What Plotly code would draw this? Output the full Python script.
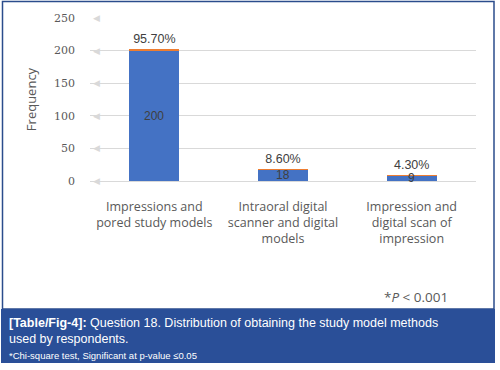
import plotly.graph_objects as go

categories = ["Impressions and<br>pored study models",
              "Intraoral digital<br>scanner and digital<br>models",
              "Impression and<br>digital scan of<br>impression"]
frequency = [200, 18, 9]
percentage = [0.957, 0.086, 0.043]
y_ticks = [0, 50, 100, 150, 200, 250]

W, H = 500, 370
L, R, T, B = 90, 24, 18, 189
pw, ph = W - L - R, H - T - B

def px(x):
    return (x - L) / pw

def py(y):
    return 1 - (y - T) / ph

fig = go.Figure()
fig.add_trace(go.Bar(
    x=categories, y=frequency, name="Frequency",
    marker=dict(color="#4472C4", line=dict(width=0)),
    hoverinfo="y",
))
fig.add_trace(go.Bar(
    x=categories, y=percentage, name="Percentage",
    marker=dict(color="#ED7D31", line=dict(width=0)),
    text=[f"{p*100:.2f}%" for p in percentage], textposition="outside",
    textangle=0,
    textfont=dict(family="Liberation Sans", size=12.5, color="#404040"),
    constraintext="none", cliponaxis=False,
))

for c, v in zip(categories, frequency):
    fig.add_annotation(x=c, y=v / 2, xref="x", yref="y", text=str(v),
                       showarrow=False,
                       font=dict(family="Liberation Sans", size=12, color="#404040"))

for v in y_ticks:
    fig.add_annotation(x=0, xref="paper", y=v, yref="y", text="◀",
                       showarrow=False, xanchor="left", xshift=1,
                       font=dict(size=9, color="#d9d9d9"))

fig.update_layout(
    width=W, height=H, barmode="stack", bargap=0.61,
    margin=dict(l=L, r=R, t=T, b=B, pad=0),
    paper_bgcolor="white", plot_bgcolor="white", showlegend=False,
    font=dict(family="Liberation Sans", color="#595959"),
    xaxis=dict(showgrid=False, showline=False, ticks="",
               tickfont=dict(family="Open Sans", size=12.5, color="#595959"),
               ticklabelstandoff=16, fixedrange=True),
    yaxis=dict(range=[0, 250], tickvals=y_ticks, showgrid=True,
               gridcolor="#d9d9d9", gridwidth=1, zeroline=True,
               zerolinecolor="#d9d9d9", zerolinewidth=1,
               tickfont=dict(family="DejaVu Serif", size=11, color="#595959"),
               ticklabelstandoff=14,
               title=dict(text="Frequency", standoff=14,
                          font=dict(family="Open Sans", size=13, color="#595959"))),
    shapes=[
        dict(type="rect", xref="paper", yref="paper",
             x0=px(2.5), x1=px(494), y0=py(309), y1=py(1.5),
             line=dict(color="#2B4C8C", width=1.5), fillcolor="rgba(0,0,0,0)",
             layer="below"),
        dict(type="rect", xref="paper", yref="paper",
             x0=px(1), x1=px(495), y0=py(363), y1=py(309),
             line=dict(width=0), fillcolor="#2A4F98", layer="above"),
    ],
)

fig.add_annotation(x=px(450), y=py(297), xref="paper", yref="paper",
                   text="*<i>P</i> < 0.001", showarrow=False,
                   xanchor="right", yanchor="middle",
                   font=dict(family="Open Sans", size=13.5, color="#595959"))
fig.add_annotation(x=px(7), y=py(314), xref="paper", yref="paper",
                   text="<b>[Table/Fig-4]:</b> Question 18. Distribution of obtaining the study model methods<br>used by respondents.",
                   showarrow=False, xanchor="left", yanchor="top", align="left",
                   font=dict(family="Liberation Sans", size=12.5, color="white"))
fig.add_annotation(x=px(7), y=py(355), xref="paper", yref="paper",
                   text="*Chi-square test, Significant at p-value ≤0.05",
                   showarrow=False, xanchor="left", yanchor="middle", align="left",
                   font=dict(family="Liberation Sans", size=9.5, color="white"))

fig.write_html("out.html", config={"displayModeBar": False},
               post_script="document.body.style.margin='0';")
